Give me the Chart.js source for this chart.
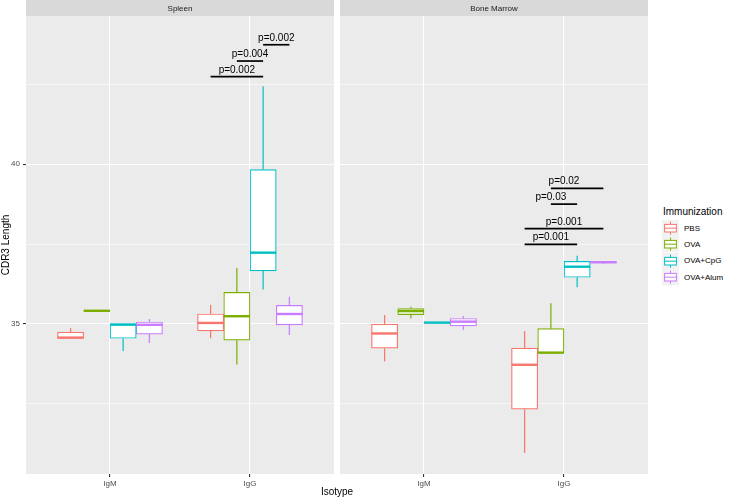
<!DOCTYPE html>
<html>
<head>
<meta charset="utf-8">
<script src="https://cdn.jsdelivr.net/npm/chart.js@4.4.1/dist/chart.umd.min.js"></script>
<style>
  body { margin: 0; background: #fff; font-family: "Liberation Sans", Arial, sans-serif; }
  #wrap { position: relative; width: 730px; height: 499px; overflow: hidden; }
  #leftChart { position: absolute; left: 0; top: 0; }
  #rightChart { position: absolute; left: 340px; top: 0; }
  #xtitle { position: absolute; left: 26px; width: 622px; top: 486px; text-align: center;
            font-size: 10px; line-height: 12px; color: #000; }
  #legend { position: absolute; left: 663px; top: 206px; }
  #legend .title { font-size: 10px; line-height: 12px; color: #000; margin-bottom: 2px; }
  #legend .item { display: flex; align-items: center; height: 16.4px; }
  #legend svg { display: block; margin-left: -1px; }
  #legend .label { font-size: 8px; color: #000; margin-left: 5px; }
</style>
</head>
<body>
<div id="wrap">
  <canvas id="leftChart" width="334" height="499"></canvas>
  <canvas id="rightChart" width="308" height="499"></canvas>
  <div id="xtitle">Isotype</div>
  <div id="legend"></div>
</div>
<script>
const isotypes = ["IgM", "IgG"];
const facets = ["Spleen", "Bone Marrow"];
const groups = ["PBS", "OVA", "OVA+CpG", "OVA+Alum"];
const colors = ["#F8766D", "#7CAE00", "#00BFC4", "#C77CFF"];

// rows = groups, columns = isotypes (IgM, IgG)
const spleenMin = [[34.55, 34.55], [35.41, 33.73], [34.15, 36.08], [34.40, 34.65]];
const spleenQ1 = [[34.55, 34.78], [35.41, 34.49], [34.55, 36.66], [34.68, 34.97]];
const spleenMedian = [[34.57, 35.03], [35.41, 35.24], [34.98, 37.23], [34.97, 35.31]];
const spleenQ3 = [[34.74, 35.31], [35.42, 35.99], [34.98, 39.83], [35.06, 35.58]];
const spleenMax = [[34.87, 35.59], [35.42, 36.75], [34.98, 42.44], [35.15, 35.85]];

const marrowMin = [[33.82, 30.96], [35.17, 34.09], [35.03, 36.15], [34.82, 36.88]];
const marrowQ1 = [[34.24, 32.33], [35.29, 34.09], [35.04, 36.46], [34.94, 36.91]];
const marrowMedian = [[34.70, 33.72], [35.40, 34.10], [35.04, 36.79], [35.07, 36.93]];
const marrowQ3 = [[34.99, 34.24], [35.48, 34.85], [35.04, 36.96], [35.17, 36.95]];
const marrowMax = [[35.28, 34.78], [35.54, 35.65], [35.05, 37.13], [35.25, 36.97]];

// significance brackets (all on IgG), group indices
const spleenSigFrom = [0, 1, 2];
const spleenSigTo = [2, 2, 3];
const spleenSigY = [42.74, 43.23, 43.74];
const spleenSigText = ["p=0.002", "p=0.004", "p=0.002"];
const spleenSigTextX = [1.906, 2.0, 2.188];

const marrowSigFrom = [0, 0, 1, 1];
const marrowSigTo = [2, 3, 2, 3];
const marrowSigY = [37.49, 37.98, 38.75, 39.24];
const marrowSigText = ["p=0.001", "p=0.001", "p=0.03", "p=0.02"];
const marrowSigTextX = [1.906, 2.0, 1.906, 2.0];

const yTicks = [32.5, 35, 37.5, 40, 42.5];
const yMin = 30.30;
const yMax = 44.64;

const dodge = 0.75 / groups.length;
const fontFamily = "'Liberation Sans', Arial, Helvetica, sans-serif";
Chart.defaults.font.family = fontFamily;

function groupX(iso, g) {
  return iso + 1 + (g - (groups.length - 1) / 2) * dodge;
}

function makeBoxPlugin(facet, stats, sig) {
  return {
    id: "boxes" + facet,
    beforeDraw(chart) {
      const ctx = chart.ctx;
      const a = chart.chartArea;
      ctx.save();
      ctx.fillStyle = "#EBEBEB";
      ctx.fillRect(a.left, a.top, a.right - a.left, a.bottom - a.top);
      ctx.fillStyle = "#D9D9D9";
      ctx.fillRect(a.left, 0, a.right - a.left, a.top);
      ctx.fillStyle = "#1A1A1A";
      ctx.font = "8px " + fontFamily;
      ctx.textAlign = "center";
      ctx.textBaseline = "middle";
      ctx.fillText(facets[facet], (a.left + a.right) / 2, a.top / 2 + 0.5);
      ctx.restore();
    },
    afterDatasetsDraw(chart) {
      const ctx = chart.ctx;
      const xs = chart.scales.x;
      const ys = chart.scales.y;
      ctx.save();
      chart.data.datasets.forEach((ds, g) => {
        const meta = chart.getDatasetMeta(g);
        meta.data.forEach((bar, i) => {
          const { x, width } = bar.getProps(["x", "width"], true);
          ctx.strokeStyle = colors[g];
          ctx.lineWidth = 1.2;
          ctx.beginPath();
          ctx.moveTo(x, ys.getPixelForValue(stats.q3[g][i]));
          ctx.lineTo(x, ys.getPixelForValue(stats.max[g][i]));
          ctx.moveTo(x, ys.getPixelForValue(stats.q1[g][i]));
          ctx.lineTo(x, ys.getPixelForValue(stats.min[g][i]));
          ctx.stroke();
          ctx.lineWidth = 2.4;
          const my = ys.getPixelForValue(stats.median[g][i]);
          ctx.beginPath();
          ctx.moveTo(x - width / 2, my);
          ctx.lineTo(x + width / 2, my);
          ctx.stroke();
        });
      });

      ctx.strokeStyle = "#000";
      ctx.fillStyle = "#000";
      ctx.lineWidth = 1.7;
      ctx.font = "10px " + fontFamily;
      ctx.textAlign = "center";
      ctx.textBaseline = "alphabetic";
      sig.from.forEach((f, k) => {
        const x0 = xs.getPixelForValue(groupX(1, f));
        const x1 = xs.getPixelForValue(groupX(1, sig.to[k]));
        const y = ys.getPixelForValue(sig.y[k]);
        ctx.beginPath();
        ctx.moveTo(x0, y);
        ctx.lineTo(x1, y);
        ctx.stroke();
        ctx.fillText(sig.text[k], xs.getPixelForValue(sig.textX[k]), y - 4);
      });
      ctx.restore();
    },
  };
}

function makeChart(canvasId, facet, stats, sig) {
  const first = facet === 0;
  const datasets = groups.map((g, gi) => ({
    label: g,
    data: isotypes.map((iso, ii) => ({
      x: groupX(ii, gi),
      y: [stats.q1[gi][ii], stats.q3[gi][ii]],
    })),
    backgroundColor: "#FFFFFF",
    borderColor: colors[gi],
    borderWidth: 1.2,
    borderSkipped: false,
    grouped: false,
    barThickness: 26.25,
  }));

  return new Chart(document.getElementById(canvasId), {
    type: "bar",
    data: { datasets: datasets },
    options: {
      responsive: false,
      animation: false,
      layout: { padding: { top: 16, left: 0, right: 0, bottom: 0 } },
      plugins: {
        legend: { display: false },
        tooltip: { enabled: false },
      },
      scales: {
        x: {
          type: "linear",
          min: 0.4,
          max: 2.6,
          offset: false,
          afterBuildTicks: (scale) => {
            scale.ticks = isotypes.map((iso, i) => ({ value: i + 1 }));
          },
          afterFit: (scale) => {
            scale.height = 25;
          },
          grid: {
            offset: false,
            color: "#FFFFFF",
            lineWidth: 1.1,
            tickColor: "#333333",
            tickLength: 3,
            tickWidth: 1.1,
          },
          border: { display: false },
          ticks: {
            padding: 2,
            color: "#4D4D4D",
            font: { size: 8 },
            maxRotation: 0,
            autoSkip: false,
            callback: (value) => isotypes[Math.round(value) - 1],
          },
        },
        y: {
          type: "linear",
          min: yMin,
          max: yMax,
          beginAtZero: false,
          afterBuildTicks: (scale) => {
            scale.ticks = yTicks.map((v) => ({ value: v }));
          },
          afterFit: (scale) => {
            scale.width = first ? 26 : 0;
          },
          grid: {
            color: "#FFFFFF",
            lineWidth: (c) => (c.tick && c.tick.value % 5 === 0 ? 1.1 : 0.55),
            drawTicks: first,
            tickColor: (c) => (c.tick && c.tick.value % 5 === 0 ? "#333333" : "rgba(0,0,0,0)"),
            tickLength: 3,
            tickWidth: 1.1,
          },
          border: { display: false },
          ticks: {
            display: first,
            padding: 3,
            color: "#4D4D4D",
            font: { size: 8 },
            autoSkip: false,
            callback: (value) => (value % 5 === 0 ? String(value) : ""),
          },
          title: {
            display: first,
            text: "CDR3 Length",
            color: "#000000",
            font: { size: 10 },
            padding: 0,
          },
        },
      },
    },
    plugins: [makeBoxPlugin(facet, stats, sig)],
  });
}

makeChart(
  "leftChart",
  0,
  { min: spleenMin, q1: spleenQ1, median: spleenMedian, q3: spleenQ3, max: spleenMax },
  { from: spleenSigFrom, to: spleenSigTo, y: spleenSigY, text: spleenSigText, textX: spleenSigTextX }
);
makeChart(
  "rightChart",
  1,
  { min: marrowMin, q1: marrowQ1, median: marrowMedian, q3: marrowQ3, max: marrowMax },
  { from: marrowSigFrom, to: marrowSigTo, y: marrowSigY, text: marrowSigText, textX: marrowSigTextX }
);

// ggplot-style legend with boxplot keys
const legend = document.getElementById("legend");
legend.innerHTML = '<div class="title">Immunization</div>';
groups.forEach((g, i) => {
  const c = colors[i];
  legend.innerHTML +=
    '<div class="item">' +
    '<svg width="17" height="16.4" viewBox="0 0 17 16.4">' +
    '<rect x="0" y="0" width="17" height="16.4" fill="#F2F2F2"/>' +
    '<line x1="8.5" y1="1.6" x2="8.5" y2="14.8" stroke="' + c + '" stroke-width="1"/>' +
    '<rect x="2.6" y="4.4" width="11.8" height="7.6" fill="#fff" stroke="' + c + '" stroke-width="1"/>' +
    '<line x1="2.6" y1="8.2" x2="14.4" y2="8.2" stroke="' + c + '" stroke-width="1"/>' +
    "</svg>" +
    '<span class="label">' + g + "</span></div>";
});
</script>
</body>
</html>
